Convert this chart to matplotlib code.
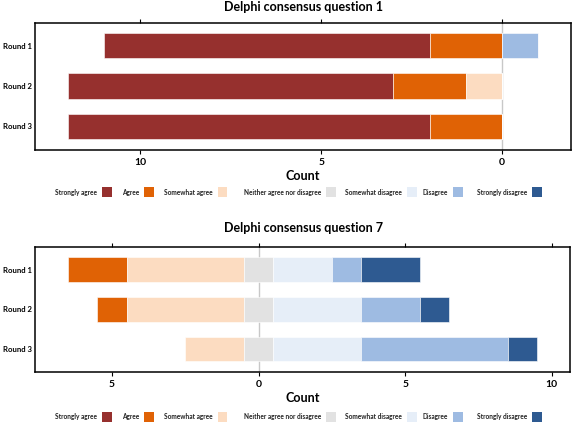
import matplotlib
matplotlib.use("Agg")
import matplotlib.pyplot as plt
from matplotlib.patches import Rectangle
import numpy as np

plt.rcParams['font.family'] = ['Lato', 'DejaVu Sans']

rounds = ['Round 1', 'Round 2', 'Round 3']
levels = ['Strongly agree', 'Agree', 'Somewhat agree', 'Neither agree nor disagree',
          'Somewhat disagree', 'Disagree', 'Strongly disagree']
colors = ['#96302e', '#e06205', '#fcdcc1', '#e2e2e2', '#e6eef8', '#9ebbe2', '#2e5a91']

# counts per round, in the order of the colour scale (dark red ... dark blue)
q1_counts = [
    [9, 2, 0, 0, 0, 1, 0],
    [9, 2, 1, 0, 0, 0, 0],
    [10, 2, 0, 0, 0, 0, 0],
]
q7_counts = [
    [0, 2, 4, 1, 2, 1, 2],
    [0, 1, 4, 1, 3, 2, 1],
    [0, 0, 2, 1, 3, 5, 1],
]

W, H = 572, 422
fig = plt.figure(figsize=(W / 100, H / 100), dpi=100)


def draw_likert(ax, counts, ticks):
    counts = np.array(counts, dtype=float)
    y = np.arange(1, len(counts) + 1)
    # left side: first three levels + half of neutral, right side the rest
    left_start = -(counts[:, :3].sum(axis=1) + counts[:, 3] / 2)
    start = left_start.copy()
    for j in range(counts.shape[1]):
        ax.barh(y, counts[:, j], left=start, height=0.625, color=colors[j],
                edgecolor='white', linewidth=0.4, zorder=2)
        start = start + counts[:, j]
    lo, hi = left_start.min(), start.max()
    pad = (hi - lo) * 0.07
    ax.set_xlim(lo - pad, hi + pad)
    ax.set_ylim(3.58, 0.42)
    ax.axvline(0, color='#c8c8c8', lw=1.0, zorder=1)
    ax.set_yticks(y)
    ax.set_yticklabels(rounds, fontsize=5.6, fontweight='bold')
    ax.tick_params(axis='y', length=0, pad=2)
    ax.set_xticks(ticks)
    ax.set_xticklabels([str(abs(t)) for t in ticks], fontsize=7.5, fontweight='bold')
    ax.tick_params(axis='x', top=True, direction='out', length=3, width=0.8, pad=3)
    for s in ax.spines.values():
        s.set_linewidth(1.1)
    ax.set_xlabel('Count', fontsize=9, fontweight='bold', labelpad=2)


def draw_legend(ypix):
    box_left = [102, 144, 218, 326, 407, 453, 532]
    for lab, col, bx in zip(levels, colors, box_left):
        yc = 1 - ypix / H
        fig.text((bx - 5) / W, yc, lab, ha='right', va='center', fontsize=4.7,
                 fontweight='bold', color='#222222')
        fig.patches.append(Rectangle((bx / W, yc - 4.5 / H), 9.5 / W, 9.5 / H,
                                     transform=fig.transFigure, facecolor=col,
                                     edgecolor='none'))


ax1 = fig.add_axes([35 / W, 1 - 149.5 / H, 536 / W, 127 / H])
draw_likert(ax1, q1_counts, [-10, -5, 0])
fig.text(303 / W, 1 - 7 / H, 'Delphi consensus question 1', ha='center', va='center',
         fontsize=9, fontweight='bold')
draw_legend(192)

ax2 = fig.add_axes([35 / W, 1 - 372 / H, 535 / W, 125.5 / H])
draw_likert(ax2, q7_counts, [-5, 0, 5, 10])
fig.text(303 / W, 1 - 228 / H, 'Delphi consensus question 7', ha='center', va='center',
         fontsize=9, fontweight='bold')
draw_legend(417)

fig.savefig('out.png', dpi=100)
